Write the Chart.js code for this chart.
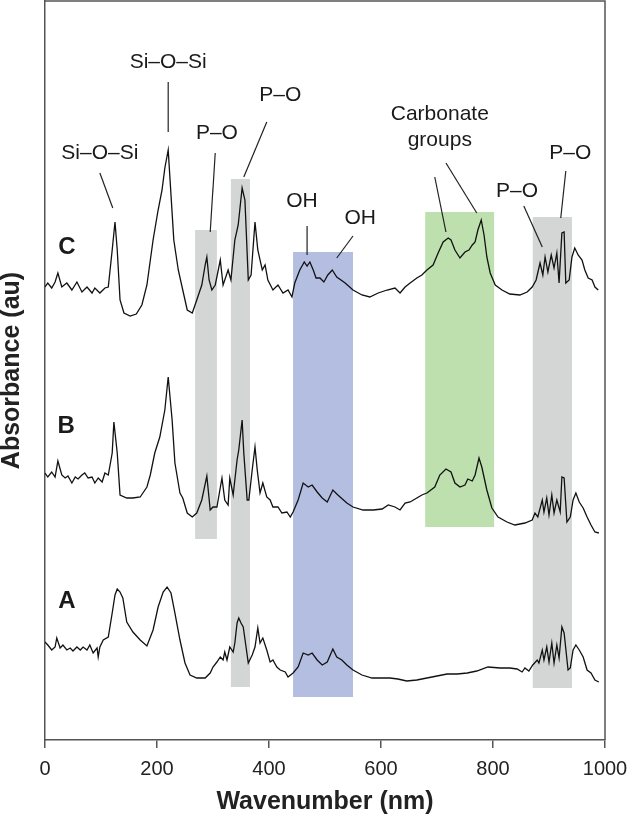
<!DOCTYPE html>
<html>
<head>
<meta charset="utf-8">
<script src="https://cdn.jsdelivr.net/npm/chart.js@4/dist/chart.umd.min.js"></script>
<style>
  html, body { margin: 0; padding: 0; background: #fff; }
  canvas { display: block; }
</style>
</head>
<body>
<canvas id="spectra" width="632" height="817"></canvas>
<script>
// wavenumber / absorbance (absorbance in arbitrary units, spectra stacked)
const waveC = [0,5,12,18,23,30,39,48,57,66,75,84,89,98,107,113,120,125,129,134,141,152,163,173,182,193,202,209,214,220,
  225,230,238,246,254,263,271,280,286,289,293,298,304,313,318,327,332,339,345,352,357,363,368,375,380,388,393,398,407,416,
  425,434,441,446,455,463,468,473,479,484,491,498,505,513,521,536,550,566,580,595,611,625,634,643,652,664,673,682,693,702,
  711,720,725,732,741,750,757,763,768,773,779,784,789,795,804,816,830,848,861,870,877,884,889,893,898,904,909,914,918,923,
  927,930,936,941,946,952,959,964,970,977,982,988];
const absC = [453,457,452,458,467,453,457,450,458,448,453,447,452,447,452,453,490,518,490,440,427,424,426,435,455,500,530,550,572,590,
  545,500,470,450,430,427,440,455,475,483,460,450,455,480,455,470,460,500,515,552,540,460,465,518,490,470,475,460,450,455,
  447,450,443,457,470,478,474,478,470,462,462,458,465,470,463,457,450,445,443,447,450,452,447,453,457,462,465,470,475,487,
  498,502,500,490,482,488,490,495,498,510,520,505,483,467,455,450,446,445,448,453,460,477,465,483,468,485,472,487,457,507,
  508,457,460,483,492,485,480,470,462,460,453,450];

const waveB = [0,5,12,18,23,30,36,41,48,54,59,66,71,77,84,89,95,102,107,113,120,123,129,134,146,157,170,182,188,196,
  205,214,220,227,232,241,246,254,263,271,280,289,295,300,307,316,321,327,330,336,343,346,352,355,361,364,370,375,379,384,
  389,396,402,407,416,423,432,438,443,452,461,470,477,486,495,504,514,523,539,550,568,586,602,613,625,634,643,652,664,673,
  682,696,705,716,725,732,741,750,755,763,768,775,780,789,798,809,825,839,848,857,870,875,880,888,891,896,900,905,909,914,
  920,923,927,932,938,943,948,954,961,968,975,982,989];
const absB = [267,263,268,263,279,265,262,264,257,263,261,265,267,262,263,257,262,258,267,265,287,318,287,245,242,242,243,253,265,287,
  303,330,363,320,277,247,242,227,223,227,240,264,230,233,233,262,240,235,262,245,280,290,320,287,240,240,270,293,270,247,
  257,243,240,233,233,227,228,223,228,240,257,253,255,248,242,238,250,245,237,233,230,230,231,235,233,230,237,238,242,245,
  247,253,265,271,268,257,253,255,261,259,265,282,273,250,232,223,218,215,216,217,220,227,223,240,228,242,225,245,227,240,
  228,263,262,218,223,240,247,238,232,223,215,208,207];

const waveA = [0,5,12,18,21,27,32,39,45,50,57,63,68,75,80,86,93,95,98,104,113,120,125,129,134,139,146,157,170,182,
  193,202,211,218,225,232,241,250,259,271,286,295,300,307,313,318,321,325,330,336,339,343,346,350,354,359,363,370,375,380,
  384,389,396,402,407,414,420,429,434,443,452,461,470,477,486,495,504,514,521,530,539,550,566,584,602,616,630,646,664,682,
  700,718,736,754,771,791,813,830,843,852,857,864,871,879,882,888,891,896,900,905,909,914,918,923,927,934,938,943,948,954,
  961,968,975,982,989];
const absA = [98,95,90,93,102,92,95,90,92,89,93,90,93,90,95,87,92,83,93,100,103,127,145,151,148,142,118,108,100,94,
  110,133,148,153,147,127,100,77,65,62,62,67,73,78,83,80,88,80,93,88,97,117,122,117,113,93,77,85,93,112,
  97,102,90,78,80,73,70,68,63,67,73,87,85,87,80,75,78,91,83,80,75,70,65,62,62,62,61,59,60,62,
  64,66,66,67,69,73,72,72,71,68,72,69,75,80,77,90,80,93,78,97,77,95,82,113,107,70,72,90,95,90,
  83,70,67,60,58];

const sampleNames = ['A', 'B', 'C'];
const sampleLabelPos = [[39, 139], [38, 314], [39, 493]];

// shaded bands: [from, to, bottom, top, colour]
const bandFrom   = [268, 332, 443, 679, 871];
const bandTo     = [307, 366, 550, 802, 941];
const bandBottom = [201, 53, 43, 213, 52];
const bandTop    = [510, 561, 488, 528, 523];
const bandColors = ['#d4d5d5', '#d4d5d5', '#b4bee1', '#bedfae', '#d4d5d5'];

// peak assignments: text lines, text anchor, leader line ends (all in data units)
const peakText  = [['Si\u2013O\u2013Si'], ['Si\u2013O\u2013Si'], ['P\u2013O'], ['P\u2013O'], ['OH'], ['OH'],
  ['Carbonate', 'groups'], ['P\u2013O'], ['P\u2013O']];
const peakTextAt = [[98, 587], [220, 678], [307, 607], [420, 645], [459, 539], [563, 522], [705, 626], [843, 549], [938, 587]];
const peakLeaders = [
  [[98, 567, 121, 532]],
  [[220, 658, 220, 608]],
  [[304, 587, 295, 508]],
  [[396, 618, 355, 563]],
  [[468, 514, 468, 485]],
  [[550, 504, 521, 482]],
  [[696, 563, 716, 508], [716, 577, 771, 527]],
  [[855, 534, 888, 493]],
  [[930, 569, 921, 522]]
];

const FONT = "'Liberation Sans', Arial, Helvetica, sans-serif";

function toPoints(xs, ys) {
  return xs.map((x, i) => ({ x: x, y: ys[i] }));
}

const decorations = {
  id: 'decorations',
  beforeDatasetsDraw(chart) {
    const ctx = chart.ctx;
    const xs = chart.scales.x, ys = chart.scales.y;
    ctx.save();
    for (let i = 0; i < bandFrom.length; i++) {
      const x0 = xs.getPixelForValue(bandFrom[i]);
      const x1 = xs.getPixelForValue(bandTo[i]);
      const y0 = ys.getPixelForValue(bandTop[i]);
      const y1 = ys.getPixelForValue(bandBottom[i]);
      ctx.fillStyle = bandColors[i];
      ctx.fillRect(x0, y0, x1 - x0, y1 - y0);
    }
    ctx.restore();
  },
  afterDatasetsDraw(chart) {
    const ctx = chart.ctx;
    const xs = chart.scales.x, ys = chart.scales.y;
    const area = chart.chartArea;
    ctx.save();
    // top and right edges of the frame
    ctx.strokeStyle = '#555';
    ctx.lineWidth = 1.5;
    ctx.beginPath();
    ctx.moveTo(area.left, area.top);
    ctx.lineTo(area.right, area.top);
    ctx.lineTo(area.right, area.bottom);
    ctx.stroke();

    // leader lines
    ctx.strokeStyle = '#222';
    ctx.lineWidth = 1.2;
    peakLeaders.forEach(group => {
      group.forEach(l => {
        ctx.beginPath();
        ctx.moveTo(xs.getPixelForValue(l[0]), ys.getPixelForValue(l[1]));
        ctx.lineTo(xs.getPixelForValue(l[2]), ys.getPixelForValue(l[3]));
        ctx.stroke();
      });
    });

    // assignment labels
    ctx.fillStyle = '#1a1a1a';
    ctx.font = '21px ' + FONT;
    ctx.textAlign = 'center';
    ctx.textBaseline = 'middle';
    peakText.forEach((lines, i) => {
      const px = xs.getPixelForValue(peakTextAt[i][0]);
      const py = ys.getPixelForValue(peakTextAt[i][1]);
      lines.forEach((t, k) => ctx.fillText(t, px, py + k * 26));
    });

    // sample letters
    ctx.font = 'bold 24px ' + FONT;
    sampleNames.forEach((n, i) => {
      ctx.fillText(n, xs.getPixelForValue(sampleLabelPos[i][0]), ys.getPixelForValue(sampleLabelPos[i][1]));
    });
    ctx.restore();
  }
};

const lineStyle = {
  borderColor: '#111',
  borderWidth: 1.3,
  pointRadius: 0,
  fill: false,
  tension: 0
};

new Chart(document.getElementById('spectra'), {
  type: 'line',
  data: {
    datasets: [
      Object.assign({ label: 'C', data: toPoints(waveC, absC) }, lineStyle),
      Object.assign({ label: 'B', data: toPoints(waveB, absB) }, lineStyle),
      Object.assign({ label: 'A', data: toPoints(waveA, absA) }, lineStyle)
    ]
  },
  options: {
    responsive: false,
    devicePixelRatio: 1,
    animation: false,
    layout: { padding: { top: 1, right: 27, bottom: 0, left: 0 } },
    plugins: {
      legend: { display: false },
      tooltip: { enabled: false }
    },
    scales: {
      x: {
        type: 'linear',
        min: 0,
        max: 1000,
        afterFit: scale => {
          scale.height = 77;
          scale.paddingLeft = 0;
          scale.paddingRight = 0;
        },
        ticks: {
          stepSize: 200,
          color: '#222',
          padding: 9,
          font: { family: FONT, size: 20 },
          callback: v => String(v)
        },
        grid: {
          display: true,
          drawOnChartArea: false,
          drawTicks: true,
          tickLength: 8,
          color: '#555',
          lineWidth: 1.5
        },
        border: { display: true, color: '#555', width: 1.5 },
        title: {
          display: true,
          text: 'Wavenumber (nm)',
          color: '#222',
          padding: { top: 0, bottom: 2 },
          font: { family: FONT, size: 25, weight: 'bold', lineHeight: 1 }
        }
      },
      y: {
        type: 'linear',
        min: 0,
        max: 739,
        afterFit: scale => { scale.width = 45; },
        ticks: { display: false },
        grid: { display: false },
        border: { display: true, color: '#555', width: 1.5 },
        title: {
          display: true,
          text: 'Absorbance (au)',
          color: '#222',
          padding: { top: 0, bottom: 0 },
          font: { family: FONT, size: 25, weight: 'bold', lineHeight: 1 }
        }
      }
    }
  },
  plugins: [decorations]
});
</script>
</body>
</html>
